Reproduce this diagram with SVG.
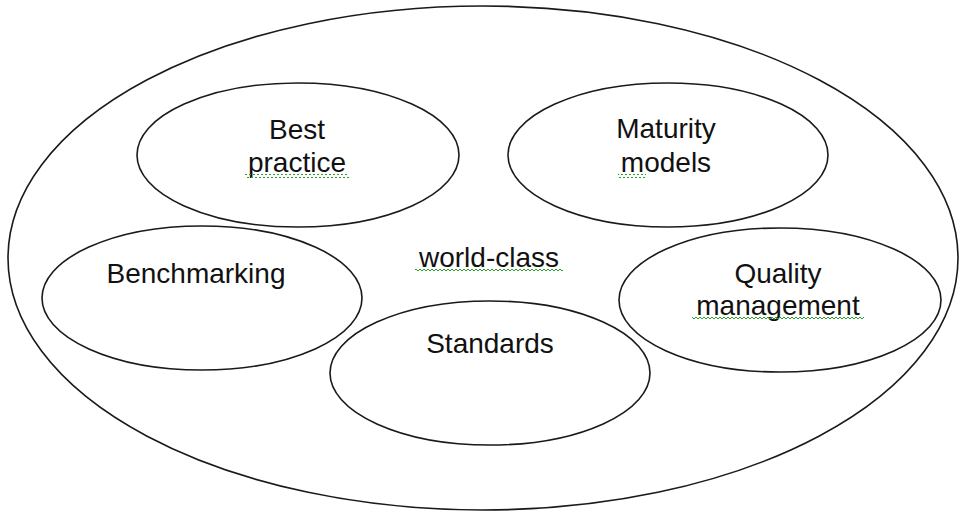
<svg xmlns="http://www.w3.org/2000/svg" width="962" height="515" viewBox="0 0 962 515">
  <style>
    .shape { fill: none; stroke: #1a1a1a; stroke-width: 1.6; }
    .label { font-family: "Liberation Sans", Arial, sans-serif; font-size: 28px; fill: #111; text-anchor: middle; }
  </style>
  <defs>
    <pattern id="squiggle" x="0" y="0" width="4" height="4" patternUnits="userSpaceOnUse">
      <path d="M0,1 L2,3 L4,1" fill="none" stroke="#2aa02a" stroke-width="1"/>
    </pattern>
  </defs>
  <rect width="962" height="515" fill="#ffffff"/>
  <g id="outer">
    <ellipse class="shape" cx="483" cy="258" rx="475" ry="252"/>
  </g>
  <g id="world-class">
    <text class="label" x="489" y="267">world-class</text>
    <rect x="415" y="269" width="148" height="4" fill="url(#squiggle)"/>
  </g>
  <g id="best-practice">
    <ellipse class="shape" cx="298" cy="155" rx="161" ry="72"/>
    <text class="label" x="297" y="139">Best</text>
    <text class="label" x="297" y="172">practice</text>
    <rect x="245" y="174" width="104" height="4" fill="url(#squiggle)"/>
  </g>
  <g id="maturity-models">
    <ellipse class="shape" cx="668" cy="155" rx="160" ry="72"/>
    <text class="label" x="666" y="138">Maturity</text>
    <text class="label" x="666" y="172">models</text>
    <rect x="618" y="174" width="28" height="4" fill="url(#squiggle)"/>
  </g>
  <g id="benchmarking">
    <ellipse class="shape" cx="202" cy="298" rx="160" ry="72"/>
    <text class="label" x="196" y="283">Benchmarking</text>
  </g>
  <g id="quality-management">
    <ellipse class="shape" cx="780" cy="300" rx="161" ry="72"/>
    <text class="label" x="778" y="283">Quality</text>
    <text class="label" x="778" y="315">management</text>
    <rect x="692" y="317" width="172" height="4" fill="url(#squiggle)"/>
  </g>
  <g id="standards">
    <ellipse class="shape" cx="490" cy="373" rx="160" ry="72"/>
    <text class="label" x="490" y="353">Standards</text>
  </g>
  <g id="connectors"></g>
</svg>
